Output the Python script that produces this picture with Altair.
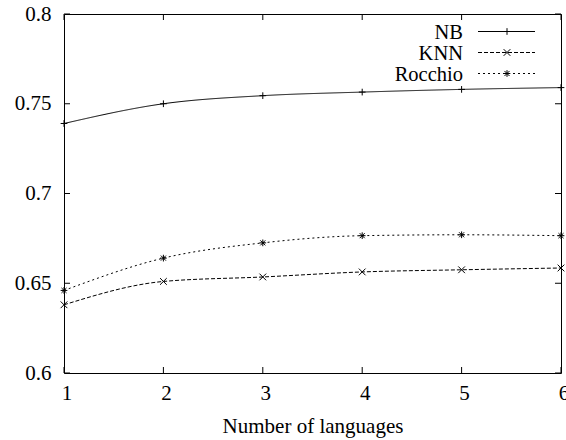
import altair as alt
import pandas as pd

x_vals = [1, 2, 3, 4, 5, 6]
series = ["NB", "KNN", "Rocchio"]
nb = [0.739, 0.750, 0.7545, 0.7565, 0.758, 0.759]
knn = [0.638, 0.651, 0.6535, 0.6563, 0.6575, 0.6585]
rocchio = [0.646, 0.664, 0.6725, 0.6765, 0.677, 0.6765]
x_ticks = [1, 2, 3, 4, 5, 6]
y_ticks = [0.6, 0.65, 0.7, 0.75, 0.8]

W, H = 497, 359
FONT = "Liberation Serif"
FS = 21

rows = []
for name, vals in zip(series, [nb, knn, rocchio]):
    for xv, yv in zip(x_vals, vals):
        rows.append({"series": name, "x": xv, "y": yv})
df = pd.DataFrame(rows)

dash_range = [[1, 0], [4, 2], [2, 3]]
PLUS = "M-1,0H1M0,-1V1"
XS = "M-1,-1L1,1M-1,1L1,-1"
STAR = "M-1,0H1M0,-1V1M-0.75,-0.75L0.75,0.75M-0.75,0.75L0.75,-0.75"
shape_range = [PLUS, XS, STAR]

xscale = alt.Scale(domain=[1, 6], nice=False, zero=False)
yscale = alt.Scale(domain=[0.6, 0.8], nice=False, zero=False)
xaxis = alt.Axis(values=x_ticks, format="d", domain=False, ticks=False, grid=False,
                 labelFlush=False, labelOffset=2.5, labelOverlap=False,
                 labelFont=FONT, labelFontSize=FS, labelColor="black", labelPadding=9,
                 titleFont=FONT, titleFontSize=FS, titleFontWeight="normal",
                 titleColor="black", titlePadding=12)
yaxis = alt.Axis(values=y_ticks, format="~g", domain=False, ticks=False, grid=False,
                 labelFlush=False, labelOverlap=False,
                 labelFont=FONT, labelFontSize=FS, labelColor="black", labelPadding=13)
XT = "Number of languages"


def X(f):
    return alt.X(f, scale=xscale, axis=xaxis, title=XT)


def Y(f):
    return alt.Y(f, scale=yscale, axis=yaxis, title=None)


base = alt.Chart(df)
lines = base.mark_line(color="black", strokeWidth=1, interpolate="monotone").encode(
    x=X("x:Q"), y=Y("y:Q"),
    strokeDash=alt.StrokeDash("series:N", scale=alt.Scale(domain=series, range=dash_range), legend=None),
    detail="series:N",
)
points = base.mark_point(color="black", filled=False, strokeWidth=1, size=45, opacity=1).encode(
    x=X("x:Q"), y=Y("y:Q"),
    shape=alt.Shape("series:N", scale=alt.Scale(domain=series, range=shape_range), legend=None),
)

xt = alt.Chart(pd.DataFrame({"v": x_ticks}))
yt = alt.Chart(pd.DataFrame({"v": y_ticks}))
tick_style = dict(color="black", strokeWidth=1)
tb = xt.mark_rule(**tick_style).encode(x=X("v:Q"), y=alt.value(H), y2=alt.value(H - 6))
tt = xt.mark_rule(**tick_style).encode(x=X("v:Q"), y=alt.value(0), y2=alt.value(6))
tl = yt.mark_rule(**tick_style).encode(y=Y("v:Q"), x=alt.value(0), x2=alt.value(6))
tr = yt.mark_rule(**tick_style).encode(y=Y("v:Q"), x=alt.value(W - 6), x2=alt.value(W))

legend_layers = []
for i, name in enumerate(series):
    ly = 17.5 + 21 * i
    d = pd.DataFrame({"series": [name]})
    lc = alt.Chart(d)
    legend_layers.append(lc.mark_text(font=FONT, fontSize=20.5, align="right", baseline="middle", color="black").encode(
        text="series:N", x=alt.value(399), y=alt.value(ly + 1)))
    legend_layers.append(lc.mark_rule(color="black", strokeWidth=1, strokeDash=dash_range[i]).encode(
        x=alt.value(414), x2=alt.value(471), y=alt.value(ly)))
    legend_layers.append(lc.mark_point(color="black", filled=False, strokeWidth=1, size=45, opacity=1,
                                       shape=shape_range[i]).encode(
        x=alt.value(443), y=alt.value(ly)))

chart = alt.layer(lines, points, tb, tt, tl, tr, *legend_layers).properties(
    width=W, height=H,
    background="white",
    autosize=alt.AutoSizeParams(type="none"),
    padding={"left": 64, "top": 14, "right": 5, "bottom": 67},
).configure_view(stroke="black", strokeWidth=1)

chart.save("out.html", embed_options={"renderer": "svg", "actions": False})
